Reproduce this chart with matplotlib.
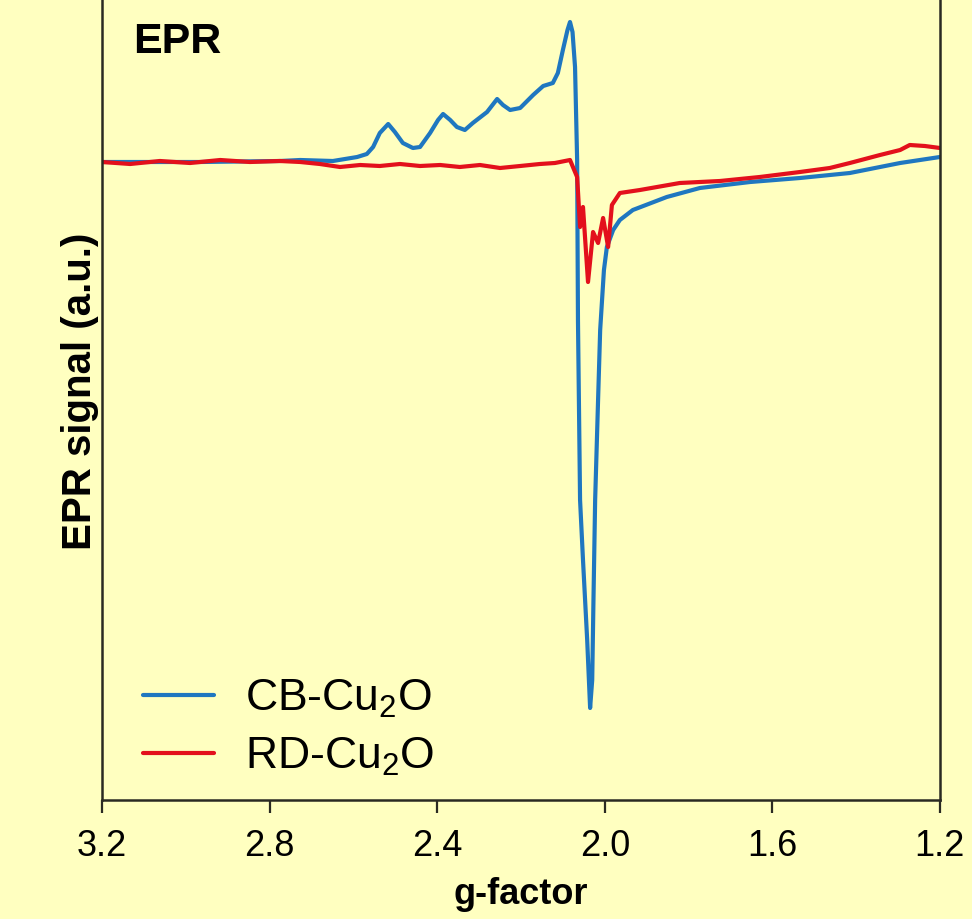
import matplotlib
matplotlib.use("Agg")
import matplotlib.pyplot as plt
from matplotlib import font_manager

# ---- data ----
cb_g = [3.200, 2.966, 2.775, 2.727, 2.649, 2.591, 2.568, 2.553, 2.537, 2.517,
        2.501, 2.482, 2.458, 2.441, 2.417, 2.398, 2.386, 2.369, 2.353, 2.334,
        2.315, 2.281, 2.257, 2.243, 2.226, 2.202, 2.171, 2.147, 2.124, 2.112,
        2.100, 2.089, 2.083, 2.077, 2.071, 2.066, 2.064, 2.059, 2.052, 2.042,
        2.035, 2.030, 2.027, 2.023, 2.016, 2.011, 2.002, 1.995, 1.980, 1.964,
        1.933, 1.852, 1.773, 1.653, 1.534, 1.415, 1.295, 1.200]
cb_sig = [0, 0, 1, 2, 1, 5, 8, 15, 29, 38,
          30, 19, 14, 15, 29, 42, 48, 42, 35, 32,
          39, 50, 63, 57, 52, 54, 67, 76, 79, 89,
          112, 132, 140, 130, 95, 2, -158, -338, -398, -478,
          -546, -518, -438, -338, -238, -168, -108, -85, -68, -58,
          -48, -35, -26, -20, -16, -11, -1, 5]

rd_g = [3.200, 3.133, 3.062, 2.990, 2.918, 2.847, 2.776, 2.727, 2.680, 2.632,
        2.584, 2.537, 2.489, 2.441, 2.393, 2.346, 2.298, 2.250, 2.202, 2.155,
        2.119, 2.083, 2.066, 2.059, 2.052, 2.040, 2.028, 2.016, 2.004, 1.992,
        1.983, 1.964, 1.916, 1.821, 1.725, 1.630, 1.534, 1.463, 1.415, 1.343,
        1.295, 1.272, 1.236, 1.200]
rd_sig = [0, -2, 1, -1, 2, 0, 1, 0, -2, -5,
          -3, -4, -2, -4, -3, -5, -3, -6, -4, -2,
          -1, 2, -15, -65, -45, -120, -70, -81, -56, -85,
          -43, -31, -28, -21, -19, -15, -10, -6, -1, 7,
          12, 17, 16, 14]

xticks = [3.2, 2.8, 2.4, 2.0, 1.6, 1.2]
xtick_labels = ["3.2", "2.8", "2.4", "2.0", "1.6", "1.2"]
labels = ["CB-Cu$_2$O", "RD-Cu$_2$O"]

# ---- fonts ----
names = {f.name for f in font_manager.fontManager.ttflist}
narrow = "Liberation Sans Narrow" if "Liberation Sans Narrow" in names else "Liberation Sans"
plt.rcParams["font.family"] = ["Liberation Sans", "DejaVu Sans"]
plt.rcParams["mathtext.fontset"] = "custom"
plt.rcParams["mathtext.rm"] = "Liberation Sans"
plt.rcParams["mathtext.it"] = "Liberation Sans:italic"
plt.rcParams["mathtext.bf"] = "Liberation Sans:bold"

bg = "#FFFFC0"
blue = "#1F77C0"
red = "#E3101C"
dark = "#2A2A22"

fig = plt.figure(figsize=(9.72, 9.19), dpi=100, facecolor=bg)
ax = fig.add_axes([0.105, 0.1295, 0.862, 0.8705], facecolor=bg)

ax.plot(cb_g, cb_sig, color=blue, lw=3.0, label=labels[0],
        solid_joinstyle="round", solid_capstyle="round")
ax.plot(rd_g, rd_sig, color=red, lw=3.0, label=labels[1],
        solid_joinstyle="round", solid_capstyle="round")

ax.set_xlim(3.2, 1.2)
ax.set_ylim(-638, 162)
ax.set_xticks(xticks)
ax.set_xticklabels(xtick_labels, fontfamily=narrow, fontsize=26)
ax.set_yticks([])
ax.tick_params(axis="x", direction="out", length=9, width=1.6, color=dark, pad=12)

for s in ["left", "right", "bottom"]:
    ax.spines[s].set_color(dark)
    ax.spines[s].set_linewidth(1.8)
ax.spines["top"].set_visible(False)

ax.set_xlabel("g-factor", fontfamily=narrow, fontweight="bold", fontsize=26, labelpad=9)
ax.set_ylabel("EPR signal (a.u.)", fontfamily=narrow, fontweight="bold", fontsize=29, labelpad=2)
ax.yaxis.label.set_y(0.511)

ax.text(0.037, 0.934, "EPR", transform=ax.transAxes, fontsize=31, fontweight="bold",
        va="baseline", ha="left", color="black")

leg = ax.legend(loc="center left", bbox_to_anchor=(0.049, 0.09), frameon=False,
                fontsize=32, handlelength=1.6, handletextpad=0.7, labelspacing=0.35,
                borderpad=0, borderaxespad=0)

fig.savefig("out.png", dpi=100, facecolor=bg)
